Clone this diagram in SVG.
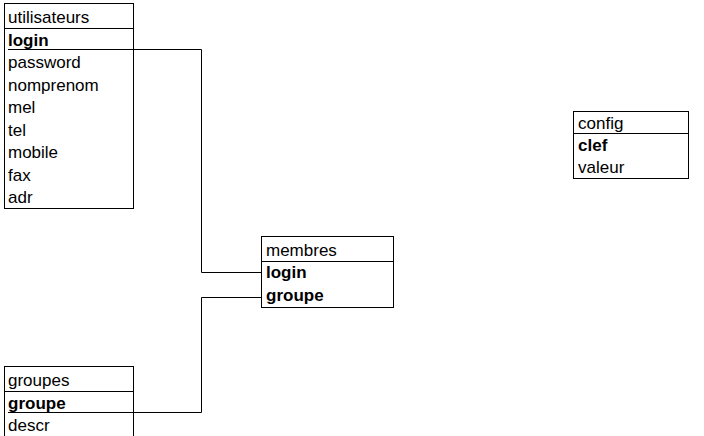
<svg xmlns="http://www.w3.org/2000/svg" width="704" height="436" viewBox="0 0 704 436">
<style>
.box{fill:#fff;stroke:#000;stroke-width:1}
.sep{stroke:#000;stroke-width:1}
text{font-family:"Liberation Sans",Arial,sans-serif;font-size:17px;fill:#000}
.k{font-weight:bold}
.c{fill:none;stroke:#000;stroke-width:1}
</style>
<rect width="704" height="436" fill="#fff"/>
<g id="utilisateurs">
<rect class="box" x="4.5" y="3.5" width="129" height="205"/>
<line class="sep" x1="4.5" y1="28.5" x2="133.5" y2="28.5"/>
<text x="8" y="23">utilisateurs</text>
<text class="k" x="8" y="46">login</text>
<text x="8" y="68">password</text>
<text x="8" y="91">nomprenom</text>
<text x="8" y="113">mel</text>
<text x="8" y="136">tel</text>
<text x="8" y="158">mobile</text>
<text x="8" y="181">fax</text>
<text x="8" y="203">adr</text>
</g>
<g id="membres">
<rect class="box" x="261.5" y="236.5" width="132" height="71"/>
<line class="sep" x1="261.5" y1="261.5" x2="393.5" y2="261.5"/>
<text x="266" y="256">membres</text>
<text class="k" x="266" y="278">login</text>
<text class="k" x="266" y="301">groupe</text>
</g>
<g id="groupes">
<rect class="box" x="4.5" y="366.5" width="129" height="80"/>
<line class="sep" x1="4.5" y1="391.5" x2="133.5" y2="391.5"/>
<text x="8" y="386">groupes</text>
<text class="k" x="8" y="409">groupe</text>
<text x="8" y="431">descr</text>
</g>
<g id="config">
<rect class="box" x="573.5" y="111.5" width="115" height="67"/>
<line class="sep" x1="573.5" y1="133.5" x2="688.5" y2="133.5"/>
<text x="578" y="129">config</text>
<text class="k" x="578" y="151">clef</text>
<text x="578" y="173">valeur</text>
</g>
<g id="connectors">
<polyline class="c" points="8,49.5 201.5,49.5 201.5,272.5 261.5,272.5"/>
<polyline class="c" points="8,412.5 201.5,412.5 201.5,297.5 261.5,297.5"/>
</g>
</svg>
